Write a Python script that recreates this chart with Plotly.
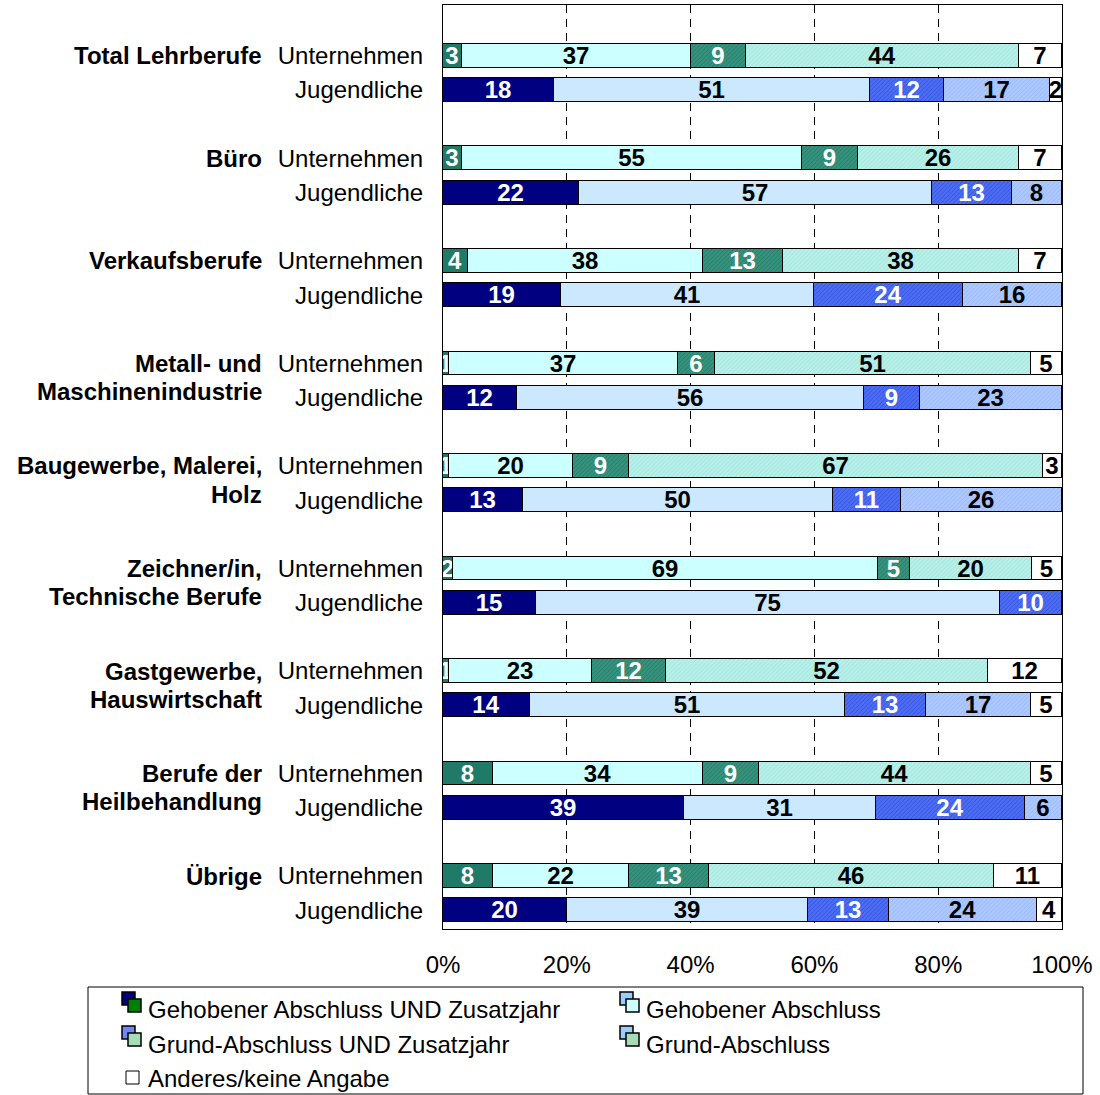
import plotly.graph_objects as go

# ---------------- data ----------------
groups = ["Total Lehrberufe", "Büro", "Verkaufsberufe", "Metall- und|Maschinenindustrie",
          "Baugewerbe, Malerei,|Holz", "Zeichner/in,|Technische Berufe",
          "Gastgewerbe,|Hauswirtschaft", "Berufe der|Heilbehandlung", "Übrige"]
row_labels = ["Unternehmen", "Jugendliche"]
series_names = ["Gehobener Abschluss UND Zusatzjahr", "Gehobener Abschluss",
                "Grund-Abschluss UND Zusatzjahr", "Grund-Abschluss", "Anderes/keine Angabe"]

u_geh_zus = [3, 3, 4, 1, 1, 1.6, 1, 8, 8]
u_geh = [37, 55, 38, 37, 20, 68.7, 23, 34, 22]
u_grund_zus = [9, 9, 13, 6, 9, 5.1, 12, 9, 13]
u_grund = [44, 26, 38, 51, 67, 19.8, 52, 44, 46]
u_anderes = [7, 7, 7, 5, 3, 4.8, 12, 5, 11]

j_geh_zus = [18, 22, 19, 12, 13, 15, 14, 39, 20]
j_geh = [51, 57, 41, 56, 50, 75, 51, 31, 39]
j_grund_zus = [12, 13, 24, 9, 11, 10, 13, 24, 13]
j_grund = [17, 8, 16, 23, 26, 0, 17, 6, 24]
j_anderes = [2, 0, 0, 0, 0, 0, 5, 0, 4]

x_ticks = [0, 20, 40, 60, 80, 100]
x_ticktext = ["0%", "20%", "40%", "60%", "80%", "100%"]

# ---------------- styles ----------------
FONT = "Liberation Sans, Arial, sans-serif"
FS = 24
W, H = 1100, 1095
L, R, T, B = 443, 1062, 5, 929  # plot area in px

u_styles = [
    dict(color="#1F7A68", pattern=None, text="white"),
    dict(color="#CCFFFF", pattern=None, text="black"),
    dict(color="#35927C", pattern=("#267565", 0.25), text="white"),
    dict(color="#B6F0E8", pattern=("#A0E0D8", 0.25), text="black"),
    dict(color="#FFFFFF", pattern=None, text="black"),
]
j_styles = [
    dict(color="#000080", pattern=None, text="white"),
    dict(color="#CCE8FF", pattern=None, text="black"),
    dict(color="#4C6CF2", pattern=("#2E4CDC", 0.25), text="white"),
    dict(color="#ACC8FF", pattern=("#94B4F4", 0.25), text="black"),
    dict(color="#FFFFFF", pattern=None, text="black"),
]

u_data = [u_geh_zus, u_geh, u_grund_zus, u_grund, u_anderes]
j_data = [j_geh_zus, j_geh, j_grund_zus, j_grund, j_anderes]

u_rows = [3 * g for g in range(len(groups))]
j_rows = [3 * g + 1 for g in range(len(groups))]

fig = go.Figure()


def add_series(name, vals, rows, st):
    marker = dict(color=st["color"], line=dict(color="black", width=1))
    if st["pattern"]:
        marker["pattern"] = dict(shape="/", bgcolor=st["color"], fgcolor=st["pattern"][0],
                                 size=3, solidity=st["pattern"][1], fillmode="replace")
    fig.add_trace(go.Bar(
        name=name, orientation="h", x=vals, y=rows, width=0.70,
        marker=marker,
        text=[f"{v:.0f}" if v > 0 else "" for v in vals],
        textposition="inside", insidetextanchor="middle", textangle=0,
        textfont=dict(family=FONT, size=FS, color=st["text"], weight="bold"),
        cliponaxis=False, showlegend=False, hoverinfo="x+name",
    ))


for i in range(5):
    add_series(series_names[i] + " (Unternehmen)", u_data[i], u_rows, u_styles[i])
for i in range(5):
    add_series(series_names[i] + " (Jugendliche)", j_data[i], j_rows, j_styles[i])

tickvals = []
ticktext = []
for g in range(len(groups)):
    tickvals += [3 * g, 3 * g + 1]
    ticktext += row_labels


def px(xp):
    return (xp - L) / (R - L)


def py(yp):
    return (B - yp) / (B - T)


annotations = []
for g, name in enumerate(groups):
    parts = name.split("|")
    for k, p in enumerate(parts):
        annotations.append(dict(
            text="<b>" + p + "</b>", xref="paper", x=px(264), xanchor="right",
            yref="y", y=3 * g + 0.82 * k, yanchor="middle", showarrow=False,
            font=dict(family=FONT, size=FS, color="black")))

# ---- custom legend (two-square icons as in the reference) ----
shapes = []
shapes.append(dict(type="rect", xref="paper", yref="paper",
                   x0=px(88), x1=px(1083), y0=py(987), y1=py(1094),
                   line=dict(color="black", width=1), fillcolor="white", layer="above"))

legend_items = [
    (series_names[0], 122, 1010, "#000080", "#008000"),
    (series_names[1], 620, 1010, "#99CCFF", "#CCFFFF"),
    (series_names[2], 122, 1044, "#6F86FF", "#A6DDB6"),
    (series_names[3], 620, 1044, "#99CCFF", "#A6DDB6"),
]
for text, x0, yc, back, front in legend_items:
    shapes.append(dict(type="rect", xref="paper", yref="paper",
                       x0=px(x0), x1=px(x0 + 13), y0=py(yc - 18), y1=py(yc - 5),
                       line=dict(color="black", width=1.5), fillcolor=back, layer="above"))
    shapes.append(dict(type="rect", xref="paper", yref="paper",
                       x0=px(x0 + 6), x1=px(x0 + 19), y0=py(yc - 11), y1=py(yc + 2),
                       line=dict(color="black", width=1.5), fillcolor=front, layer="above"))
    annotations.append(dict(text=text, xref="paper", yref="paper", x=px(x0 + 24),
                            y=py(yc), xanchor="left", yanchor="middle", showarrow=False,
                            font=dict(family=FONT, size=FS, color="black")))
shapes.append(dict(type="rect", xref="paper", yref="paper",
                   x0=px(126), x1=px(139), y0=py(1084), y1=py(1071),
                   line=dict(color="black", width=1), fillcolor="white", layer="above"))
annotations.append(dict(text=series_names[4], xref="paper", yref="paper", x=px(146),
                        y=py(1078), xanchor="left", yanchor="middle", showarrow=False,
                        font=dict(family=FONT, size=FS, color="black")))

fig.update_layout(
    width=W, height=H, barmode="stack", bargap=0,
    margin=dict(l=L, r=W - R, t=T, b=H - B, pad=0),
    paper_bgcolor="white", plot_bgcolor="white",
    font=dict(family=FONT, size=FS, color="black"),
    uniformtext=dict(minsize=FS, mode="show"),
    xaxis=dict(range=[0, 100], tickvals=x_ticks, ticktext=x_ticktext,
               showgrid=True, gridcolor="black", gridwidth=1, griddash="8px,6px",
               showline=True, linecolor="black", linewidth=1, mirror=True,
               ticks="", ticklabelstandoff=14, zeroline=False,
               tickfont=dict(family=FONT, size=FS, color="black"), fixedrange=True),
    yaxis=dict(range=[25.55, -1.49], tickvals=tickvals, ticktext=ticktext,
               showgrid=False, zeroline=False,
               showline=True, linecolor="black", linewidth=1, mirror=True,
               ticks="", ticklabelstandoff=14,
               tickfont=dict(family=FONT, size=FS, color="black"), fixedrange=True),
    annotations=annotations, shapes=shapes,
)

fig.write_html("out.html", config={"displayModeBar": False},
               post_script="document.body.style.margin='0';document.body.style.overflow='hidden';")
